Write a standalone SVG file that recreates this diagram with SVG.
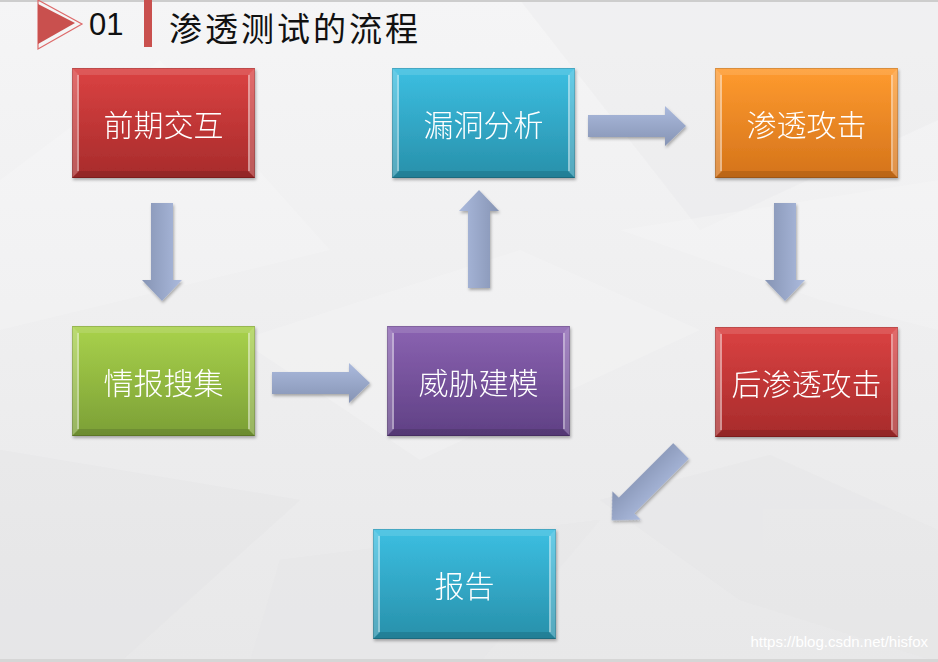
<svg xmlns="http://www.w3.org/2000/svg" xmlns:xlink="http://www.w3.org/1999/xlink" width="938" height="662" viewBox="0 0 938 662">
<style>
.lbl{font-family:"Noto Sans CJK SC","Noto Sans",sans-serif;font-size:30px;fill:#ffffff;text-anchor:middle;dominant-baseline:central;font-weight:300}
.ttl{font-family:"Noto Sans CJK SC","Noto Sans",sans-serif;font-size:33px;fill:#111111;letter-spacing:3px}
.num{font-family:"Liberation Sans","DejaVu Sans",sans-serif;font-size:31px;fill:#111111}
.wm{font-family:"Liberation Sans","DejaVu Sans",sans-serif;font-size:15px;fill:#ffffff;text-anchor:end}
</style>
<defs>
<linearGradient id="bg" x1="0" y1="0" x2="0" y2="1">
<stop offset="0" stop-color="#f5f5f6"/><stop offset="1" stop-color="#e8e8e9"/>
</linearGradient>
<linearGradient id="gRed" x1="0" y1="0" x2="0" y2="1"><stop offset="0" stop-color="#db4242"/><stop offset="1" stop-color="#a72b2b"/></linearGradient>
<linearGradient id="gCyan" x1="0" y1="0" x2="0" y2="1"><stop offset="0" stop-color="#3cbfe2"/><stop offset="1" stop-color="#2890aa"/></linearGradient>
<linearGradient id="gOrange" x1="0" y1="0" x2="0" y2="1"><stop offset="0" stop-color="#ff9b2f"/><stop offset="1" stop-color="#d4731a"/></linearGradient>
<linearGradient id="gGreen" x1="0" y1="0" x2="0" y2="1"><stop offset="0" stop-color="#a9d24b"/><stop offset="1" stop-color="#7b9f36"/></linearGradient>
<linearGradient id="gPurple" x1="0" y1="0" x2="0" y2="1"><stop offset="0" stop-color="#8b63b2"/><stop offset="1" stop-color="#5f4084"/></linearGradient>
<linearGradient id="gArrow" x1="0" y1="0" x2="0" y2="1"><stop offset="0" stop-color="#abbadd"/><stop offset="1" stop-color="#8694b4"/></linearGradient>
<filter id="sh" x="-10%" y="-10%" width="125%" height="130%">
<feDropShadow dx="1" dy="2" stdDeviation="1.5" flood-color="#000" flood-opacity="0.3"/>
</filter>
<g id="bevel">
<polygon points="0,0 183,0 176,7 7,7" fill="#ffffff" fill-opacity="0.12"/>
<polygon points="0,0 7,7 7,103 0,110" fill="#ffffff" fill-opacity="0.22"/>
<polygon points="183,0 176,7 176,103 183,110" fill="#ffffff" fill-opacity="0.22"/>
<polygon points="0,110 7,103 176,103 183,110" fill="#000000" fill-opacity="0.12"/>
<line x1="6" y1="7" x2="6" y2="103" stroke="#ffffff" stroke-opacity="0.45" stroke-width="1.5"/>
<line x1="177" y1="7" x2="177" y2="103" stroke="#ffffff" stroke-opacity="0.45" stroke-width="1.5"/>
<rect x="0.5" y="0.5" width="182" height="109" fill="none" stroke="#000" stroke-opacity="0.15"/>
</g>
<path id="arrow" d="M0,-11 L77,-11 L77,-20 L98,0 L77,20 L77,11 L0,11 Z" fill="url(#gArrow)"/>
</defs>

<rect width="938" height="662" fill="url(#bg)"/>
<g opacity="0.5">
<polygon points="0,180 160,60 330,250 0,330" fill="#ffffff" fill-opacity="0.35"/>
<polygon points="520,0 938,0 938,120 700,230" fill="#e4e4e6" fill-opacity="0.45"/>
<polygon points="240,340 520,250 700,330 420,460" fill="#ffffff" fill-opacity="0.35"/>
<polygon points="0,450 300,500 120,662 0,662" fill="#e2e2e4" fill-opacity="0.5"/>
<polygon points="600,500 770,455 938,530 938,662 740,600" fill="#e3e3e5" fill-opacity="0.5"/>
<polygon points="280,560 600,520 480,662 250,662" fill="#e6e6e8" fill-opacity="0.5"/>
<polygon points="620,230 938,180 938,330 820,300" fill="#ffffff" fill-opacity="0.3"/>
</g>
<rect x="0" y="0" width="938" height="2" fill="#cdcdcd"/>
<rect x="0" y="659" width="938" height="3" fill="#d6d6d6"/>

<g id="header">
<polygon points="38,0 82,24 38,49" fill="none" stroke="#dd6a6a" stroke-width="1.2"/>
<polygon points="38,4 75,23 38,44" fill="#c9504e"/>
<text class="num" x="89" y="35">01</text>
<rect x="144" y="0" width="8" height="47" fill="#c9504e"/>
<text class="ttl" x="169" y="41">渗透测试的流程</text>
</g>

<g id="connectors" filter="url(#sh)">
<use xlink:href="#arrow" transform="translate(162,203) rotate(90)"/>
<use xlink:href="#arrow" transform="translate(272,383)"/>
<use xlink:href="#arrow" transform="translate(479,288) rotate(-90)"/>
<use xlink:href="#arrow" transform="translate(588,126)"/>
<use xlink:href="#arrow" transform="translate(785,203) rotate(90)"/>
<use xlink:href="#arrow" transform="translate(681,451) rotate(135)"/>
</g>

<g id="node-qianqi" transform="translate(72,68)" filter="url(#sh)">
<rect width="183" height="110" fill="url(#gRed)"/><use xlink:href="#bevel"/>
<text class="lbl" x="91.5" y="55">前期交互</text>
</g>
<g id="node-loudong" transform="translate(392,68)" filter="url(#sh)">
<rect width="183" height="110" fill="url(#gCyan)"/><use xlink:href="#bevel"/>
<text class="lbl" x="91.5" y="55">漏洞分析</text>
</g>
<g id="node-shentou" transform="translate(715,68)" filter="url(#sh)">
<rect width="183" height="110" fill="url(#gOrange)"/><use xlink:href="#bevel"/>
<text class="lbl" x="91.5" y="55">渗透攻击</text>
</g>
<g id="node-qingbao" transform="translate(72,326)" filter="url(#sh)">
<rect width="183" height="110" fill="url(#gGreen)"/><use xlink:href="#bevel"/>
<text class="lbl" x="91.5" y="55">情报搜集</text>
</g>
<g id="node-weixie" transform="translate(387,326)" filter="url(#sh)">
<rect width="183" height="110" fill="url(#gPurple)"/><use xlink:href="#bevel"/>
<text class="lbl" x="91.5" y="55">威胁建模</text>
</g>
<g id="node-houshentou" transform="translate(715,327)" filter="url(#sh)">
<rect width="183" height="110" fill="url(#gRed)"/><use xlink:href="#bevel"/>
<text class="lbl" x="91.5" y="55">后渗透攻击</text>
</g>
<g id="node-baogao" transform="translate(373,529)" filter="url(#sh)">
<rect width="183" height="110" fill="url(#gCyan)"/><use xlink:href="#bevel"/>
<text class="lbl" x="91.5" y="55">报告</text>
</g>

<text class="wm" x="928" y="647">https://blog.csdn.net/hisfox</text>
</svg>
